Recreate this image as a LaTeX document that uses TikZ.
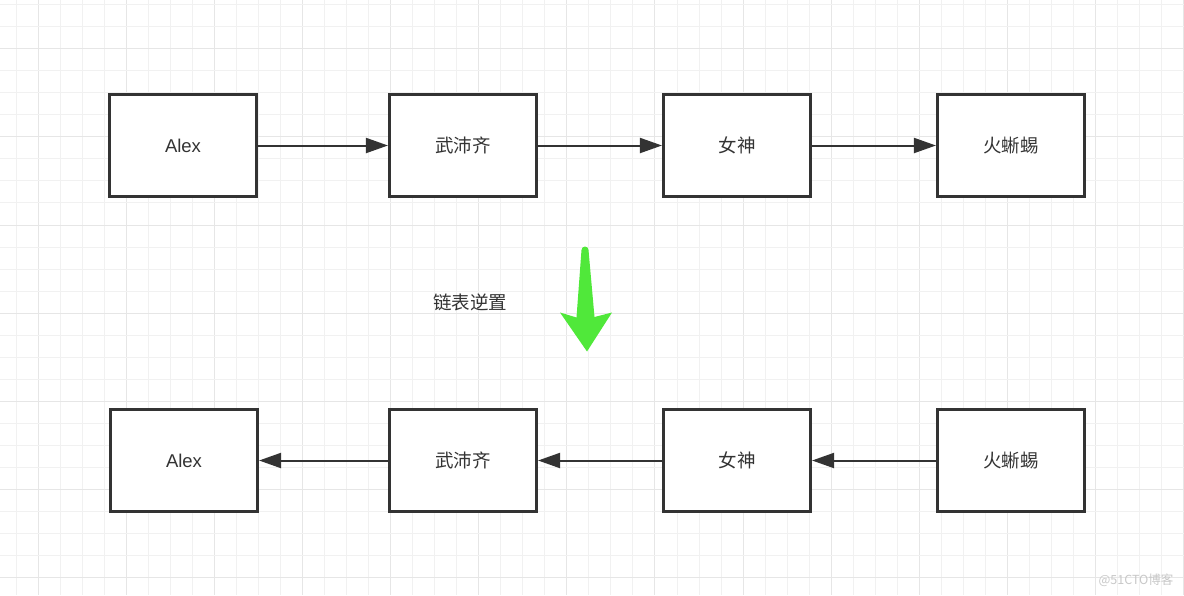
\documentclass[tikz,border=0pt]{standalone}
\usepackage{fontspec}
\setmainfont{Liberation Sans}
\newfontfamily\cjk{Noto Sans CJK SC}
\usetikzlibrary{arrows.meta}
\definecolor{gridminor}{HTML}{F1F1F1}
\definecolor{gridmajor}{HTML}{E6E6E6}
\definecolor{ink}{HTML}{333333}
\definecolor{arrowgreen}{RGB}{80,232,58}
\definecolor{wm}{HTML}{C8C8C8}
\tikzset{
  listbox/.style={draw=ink, line width=2.6pt, fill=white, minimum width=147.5pt, minimum height=102.5pt, inner sep=0pt, text=ink, font=\fontsize{18.5}{20}\selectfont},
  link/.style={draw=ink, line width=2pt, -{Triangle[length=22pt,width=15pt]}},
  minorline/.style={gridminor, line width=1pt},
  majorline/.style={gridmajor, line width=1pt},
}
\begin{document}
\begin{tikzpicture}[x=1pt,y=-1pt]
\useasboundingbox (0,0) rectangle (1184,595);
\fill[white] (0,0) rectangle (1184,595);
% grid
\foreach \i in {0,...,53} {
  \pgfmathtruncatemacro\gm{mod(\i,4)}
  \pgfmathsetmacro\gx{round(15.9+22.02*\i)+0.5}
  \ifnum\gm=1
    \draw[majorline] (\gx,0) -- (\gx,595);
  \else
    \draw[minorline] (\gx,0) -- (\gx,595);
  \fi
}
\foreach \i in {0,...,26} {
  \pgfmathtruncatemacro\gm{mod(\i,4)}
  \pgfmathsetmacro\gy{round(4.3+22.02*\i)+0.5}
  \ifnum\gm=2
    \draw[majorline] (0,\gy) -- (1184,\gy);
  \else
    \draw[minorline] (0,\gy) -- (1184,\gy);
  \fi
}
% top row
\node[listbox] (a1) at (183,145.5) {\raisebox{-1.5pt}{Alex}};
\node[listbox] (b1) at (463,145.5) {\raisebox{-1.5pt}{\cjk 武沛齐}};
\node[listbox] (c1) at (737,145.5) {\raisebox{-1.5pt}{\cjk 女神}};
\node[listbox] (d1) at (1011,145.5) {\raisebox{-1.5pt}{\cjk 火蜥蜴}};
\draw[link] (a1.east) -- (b1.west);
\draw[link] (b1.east) -- (c1.west);
\draw[link] (c1.east) -- (d1.west);
% bottom row
\node[listbox] (a2) at (184,460.5) {\raisebox{-1.5pt}{Alex}};
\node[listbox] (b2) at (463,460.5) {\raisebox{-1.5pt}{\cjk 武沛齐}};
\node[listbox] (c2) at (737,460.5) {\raisebox{-1.5pt}{\cjk 女神}};
\node[listbox] (d2) at (1011,460.5) {\raisebox{-1.5pt}{\cjk 火蜥蜴}};
\draw[link] (d2.west) -- (c2.east);
\draw[link] (c2.west) -- (b2.east);
\draw[link] (b2.west) -- (a2.east);
% green arrow
\fill[arrowgreen] (581.5,250) arc[start angle=180,end angle=360,radius=3.5]
  -- (594.5,317) -- (612,312.5) -- (587,351.5) -- (560,312.5) -- (576.5,317.5) -- cycle;
\node[text=ink, font=\cjk\fontsize{18.5}{20}\selectfont] (lbl) at (470,302) {链表逆置};
% watermark
\node[text=wm, font=\cjk\fontsize{12.5}{14}\selectfont, anchor=east] (wmk) at (1177,580) {@51CTO博客};
\end{tikzpicture}
\end{document}
